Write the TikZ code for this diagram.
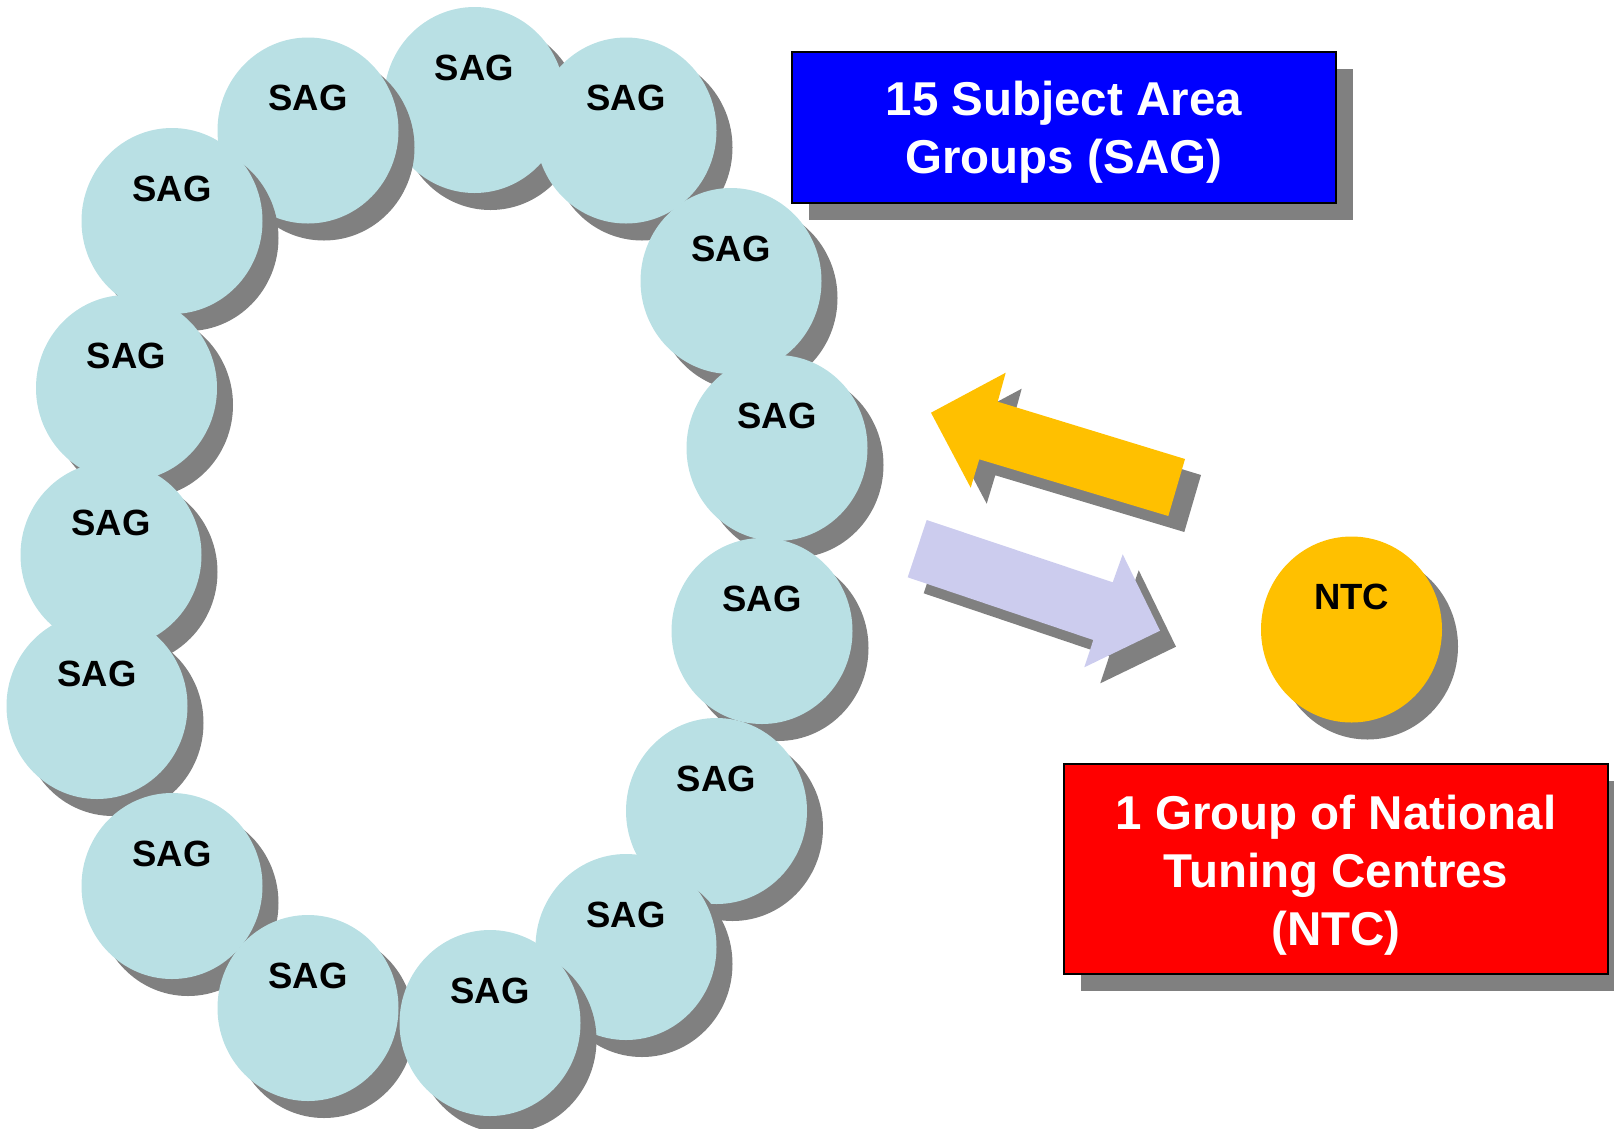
\documentclass[tikz,border=0pt]{standalone}
\usepackage{fontspec}
\setmainfont{Liberation Sans}
\usetikzlibrary{shapes.geometric,shadows}
\definecolor{sagfill}{RGB}{185,224,228}
\definecolor{shgray}{RGB}{128,128,128}
\definecolor{ntcfill}{RGB}{255,192,0}
\definecolor{lav}{RGB}{204,204,238}
\definecolor{boxblue}{RGB}{0,0,255}
\definecolor{boxred}{RGB}{255,0,0}
\begin{document}
\begin{tikzpicture}[x=1pt,y=-1pt,
  shad/.style={drop shadow={shadow xshift=16pt,shadow yshift=-17pt,fill=shgray,opacity=1}},
  bubble/.style={ellipse,minimum width=181pt,minimum height=186pt,inner sep=0pt,shad},
  bubtext/.style={font=\fontsize{36.5}{44}\selectfont\bfseries,text=black},
  sag/.style={bubble,fill=sagfill,label={[bubtext,yshift=32.5pt]center:SAG}},
  infobox/.style={rectangle,draw=black,line width=2pt,inner sep=0pt,
    drop shadow={shadow xshift=17pt,shadow yshift=-17pt,fill=shgray,opacity=1}},
  boxtext/.style={text=white,align=center,inner sep=0pt,font=\fontsize{47.5}{58}\selectfont\bfseries}
]
\useasboundingbox (0,0) rectangle (1614,1128);
% circles drawn from top to bottom
\node[sag] (s1)  at (474.5,100) {};
\node[sag] (s2)  at (308,130.5) {};
\node[sag] (s3)  at (626,130.5) {};
\node[sag] (s4)  at (172,221) {};
\node[sag] (s15) at (731,281) {};
\node[sag] (s5)  at (126.5,388) {};
\node[sag] (s14) at (777,448) {};
\node[sag] (s6)  at (111,555) {};
\node[sag] (s13) at (762,631) {};
\node[sag] (s7)  at (97,706) {};
\node[sag] (s12) at (716.5,811) {};
\node[sag] (s8)  at (172,886) {};
\node[sag] (s11) at (626,947) {};
\node[sag] (s9)  at (308,1008) {};
\node[sag] (s10) at (490,1023) {};
% NTC circle
\node[bubble,fill=ntcfill,label={[bubtext,yshift=33pt]center:NTC}] (ntc) at (1351.5,629.5) {};
% boxes
\node[infobox,fill=boxblue,minimum width=544.5pt,minimum height=150.3pt,
  label={[boxtext,yshift=-5pt]center:{15 Subject Area\\Groups (SAG)}}] (sagbox) at (1063.8,127.6) {};
\node[infobox,fill=boxred,minimum width=543.5pt,minimum height=210pt,
  label={[boxtext,yshift=-7pt]center:{1 Group of National\\Tuning Centres\\(NTC)}}] (ntcbox) at (1336,868.7) {};
% yellow block arrow (towards the SAG ring)
\fill[shgray,shift={(16,16)}] (931,412.7) -- (1005.7,372.7) -- (997.7,401.7) -- (1185,459)
  -- (1168.3,516) -- (979.3,459.3) -- (970.7,487.7) -- cycle;
\fill[ntcfill] (931,412.7) -- (1005.7,372.7) -- (997.7,401.7) -- (1185,459)
  -- (1168.3,516) -- (979.3,459.3) -- (970.7,487.7) -- cycle;
% lavender block arrow (towards NTC)
\fill[shgray,shift={(16,16)}] (926.7,520) -- (1112.7,582.3) -- (1122.7,554.3) -- (1160,630.7)
  -- (1084.3,667.3) -- (1093.3,640) -- (907.7,577.3) -- cycle;
\fill[lav] (926.7,520) -- (1112.7,582.3) -- (1122.7,554.3) -- (1160,630.7)
  -- (1084.3,667.3) -- (1093.3,640) -- (907.7,577.3) -- cycle;
\end{tikzpicture}
\end{document}
